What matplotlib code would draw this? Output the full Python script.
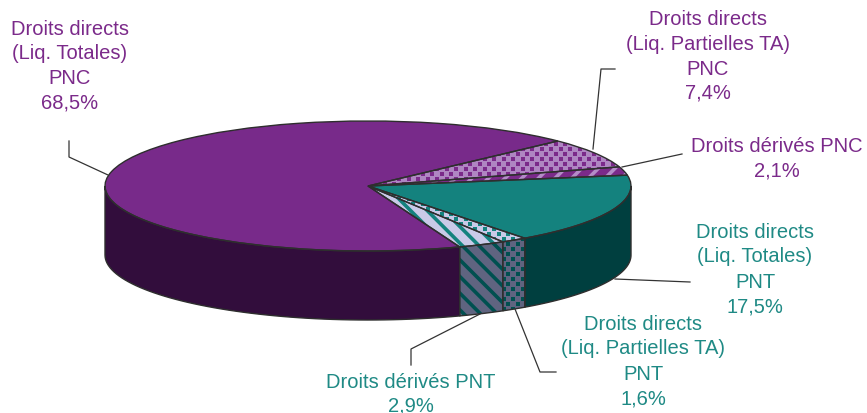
import numpy as np
import matplotlib
matplotlib.use("Agg")
import matplotlib.pyplot as plt

plt.rcParams['font.family'] = ['Liberation Sans', 'DejaVu Sans']
plt.rcParams['hatch.linewidth'] = 2.6

# parts, clockwise from the top of the dotted purple slice
values = [7.4, 2.1, 17.5, 1.6, 2.9, 68.5]
top_colors = ['#AF86C2', '#7B2A8A', '#14827E', '#C9CAE8', '#C9CAE8', '#782A8A']
side_colors = ['#320D3C', '#320D3C', '#003F3F', '#5F6480', '#5F6480', '#320D3C']
top_marks = ['dots', 'stripes//', None, 'dots', 'stripes\\\\', None]
side_marks = [None, None, None, 'dots', 'stripes\\\\', None]
top_mark_colors = ['#7B2A8A', '#B48CC8', None, '#14827E', '#14827E', None]
side_mark_colors = [None, None, None, '#005050', '#005050', None]

PURPLE = '#7B2A8A'
TEAL = '#1F8A85'
labels = [
    (["Droits directs", "(Liq. Totales)", "PNC", "68,5%"], 70, [29, 53, 78, 103], PURPLE),
    (["Droits directs", "(Liq. Partielles TA)", "PNC", "7,4%"], 708, [19, 44, 69, 93], PURPLE),
    (["Droits dérivés PNC", "2,1%"], 777, [146, 171], PURPLE),
    (["Droits directs", "(Liq. Totales)", "PNT", "17,5%"], 755, [232, 257, 282, 307], TEAL),
    (["Droits directs", "(Liq. Partielles TA)", "PNT", "1,6%"], 643, [325, 349, 374, 399], TEAL),
    (["Droits dérivés PNT", "2,9%"], 411, [382, 406], TEAL),
]
leaders = [
    [(108, 176), (69, 158), (69, 142)],
    [(593, 150), (601, 70), (615, 70)],
    [(622, 168), (682, 155)],
    [(615, 280), (690, 283)],
    [(515, 310), (540, 373), (556, 373)],
    [(480, 315), (411, 350), (411, 366)],
]

# pie geometry in image pixels
W, H = 867, 414
CX, CY, RX, RY, DEPTH = 368, 187, 263, 65, 69
START = 43.8


def to_data(px, py):
    return (np.asarray(px, float) - CX) / RX, (CY - np.asarray(py, float)) / RY


def add_dots(patch, color, size=5.0):
    gx, gy = np.meshgrid(np.arange(0, W, 9.5), np.arange(0, H, 5.0))
    gx = gx.copy()
    gx[1::2] += 4.75
    dx, dy = to_data(gx.ravel(), gy.ravel())
    dots = ax.scatter(dx, dy, s=size, marker='s', color=color, linewidths=0, zorder=2)
    dots.set_clip_path(patch)


def decorate(patch, mark, color):
    if mark is None:
        return
    if mark == 'dots':
        add_dots(patch, color)
    else:
        patch.set_hatch(mark.replace('stripes', ''))
        patch.set_edgecolor(color)


fig = plt.figure(figsize=(W / 100, H / 100), dpi=100)
ax = fig.add_axes([0, 0, 1, 1])

# side wall, only the part of each slice facing the viewer
shares = np.array(values) / sum(values) * 360
ends = START - np.cumsum(shares)
begins = ends + shares
for b, e, col, mark, mcol in zip(begins, ends, side_colors, side_marks, side_mark_colors):
    a0 = min(b, 0)
    a1 = max(e, -180)
    if a0 <= a1:
        continue
    t = np.radians(np.linspace(a0, a1, 60))
    xs = np.r_[np.cos(t), np.cos(t)[::-1]]
    ys = np.r_[np.sin(t), np.sin(t)[::-1] - DEPTH / RY]
    wall = ax.fill(xs, ys, facecolor=col, edgecolor=col, linewidth=0, zorder=1)[0]
    decorate(wall, mark, mcol)
    ax.fill(xs, ys, facecolor='none', edgecolor='#2E2E2E', linewidth=1.0, zorder=3)

# top face
wedges, _ = ax.pie(values, colors=top_colors, startangle=START, counterclock=False, radius=1,
                   wedgeprops={'linewidth': 0})
for w, mark, mcol in zip(wedges, top_marks, top_mark_colors):
    w.set_zorder(1.5)
    decorate(w, mark, mcol)
outlines, _ = ax.pie(values, colors=['none'] * len(values), startangle=START, counterclock=False,
                     radius=1, wedgeprops={'linewidth': 1.0, 'edgecolor': '#2E2E2E'})
for w in outlines:
    w.set_zorder(3)

for pts in leaders:
    lx, ly = to_data([p[0] for p in pts], [p[1] for p in pts])
    ax.plot(lx, ly, color='#333333', linewidth=0.9, zorder=0.5)

for lines, x, ys, col in labels:
    for line, y in zip(lines, ys):
        tx, ty = to_data(x, y)
        ax.text(tx, ty, line, color=col, fontsize=14.5, ha='center', va='center', zorder=4)

ax.set_aspect('auto')
ax.set_xlim(*to_data([0, W], [0, 0])[0])
ax.set_ylim(to_data([0, 0], [H, 0])[1])
ax.axis('off')

fig.savefig('out.png', dpi=100)
